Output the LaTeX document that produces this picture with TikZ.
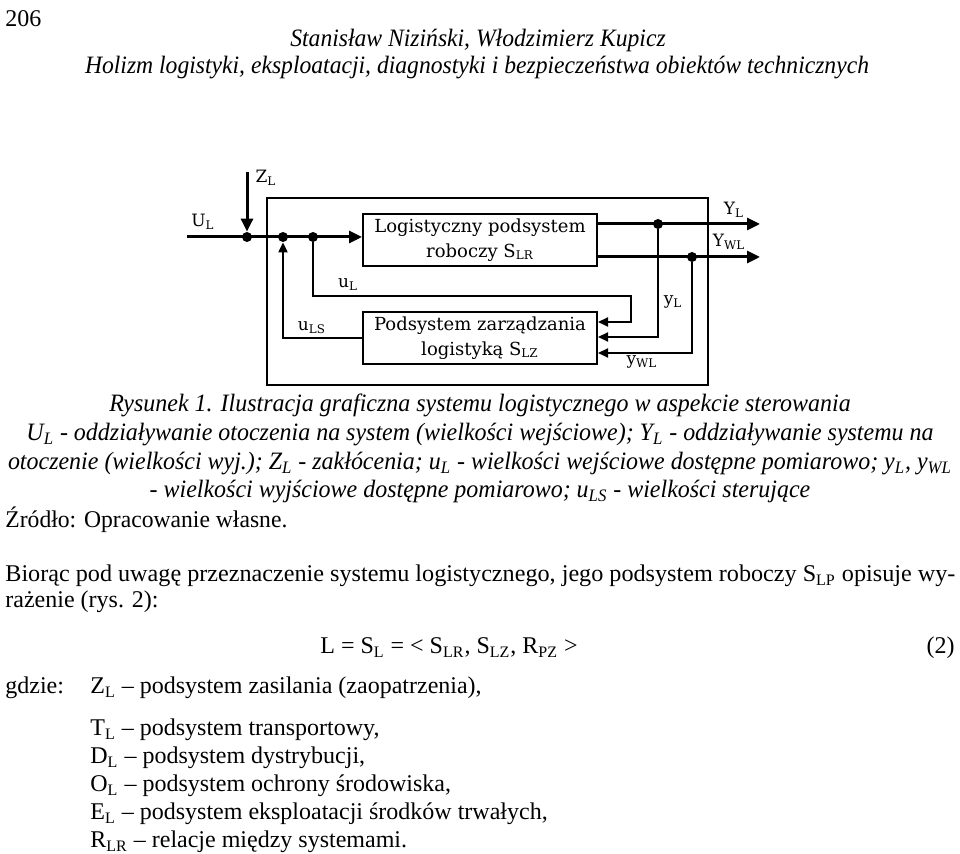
\documentclass[tikz,border=0pt]{standalone}
\usepackage{fontspec}
\usepackage{graphicx}
\setmainfont{Liberation Serif}
\newfontfamily\diagfont{DejaVu Serif}
\usetikzlibrary{arrows.meta}
\newsavebox\fitbox
\newlength\fitlen
\newcommand\hfit[2]{\sbox\fitbox{#2}\setlength\fitlen{\wd\fitbox}\pgfmathsetmacro\fitf{(#1)/\fitlen}\scalebox{\fitf}[1]{\usebox\fitbox}}
\newcommand\mkfactor[3]{\sbox\fitbox{#3}\setlength\fitlen{\wd\fitbox}\pgfmathsetmacro#1{(#2)/\fitlen}}
\newcommand\captext{otoczenie (wielkości wyj.); Z\textsubscript{L} - zakłócenia; u\textsubscript{L} - wielkości wejściowe dostępne pomiarowo; y\textsubscript{L}, y\textsubscript{WL}}
\newcommand\headtext{Holizm logistyki, eksploatacji, diagnostyki i bezpieczeństwa obiektów technicznych}
\tikzset{
 sig/.style={line width=1.5pt},
 wire/.style={line width=1pt},
 blk/.style={draw, line width=1pt, minimum width=117pt, minimum height=26pt, inner sep=0pt, align=center, font=\diagfont\fontsize{9}{12.5}\selectfont},
 frm/.style={draw, line width=1pt, minimum width=220.5pt, minimum height=93.5pt, inner sep=0pt},
 dot/.style={circle, fill, inner sep=0pt, minimum size=5pt},
 lbl/.style={inner sep=0pt, font=\diagfont\fontsize{8.5}{10}\selectfont},
 big/.style={-{Triangle[length=6.5pt,width=6pt]}},
 sml/.style={-{Triangle[length=5pt,width=4.5pt]}},
 txt/.style={inner sep=0pt, font=\fontsize{12}{14}\selectfont},
 capt/.style={inner sep=0pt, font=\itshape\fontsize{12.5}{14}\selectfont},
}
\begin{document}
\mkfactor{\capf}{472pt}{\itshape\fontsize{12.5}{14}\selectfont\captext}%
\mkfactor{\headf}{392pt}{\itshape\fontsize{12.5}{14}\selectfont\headtext}%
\begin{tikzpicture}[x=0.5pt,y=-0.5pt]
\useasboundingbox (0,0) rectangle (960,854);
% header
\node[txt, anchor=base west] (pg) at (5,27) {206};
\node[capt, anchor=base] (h1) at (478,47) {\scalebox{\headf}[1]{Stanisław Niziński, Włodzimierz Kupicz}};
\node[capt, anchor=base] (h2) at (477,74) {\scalebox{\headf}[1]{\headtext}};
% diagram
\node[frm] (fr) at (487.5,291.5) {};
\node[blk] (b1) at (480,240) {Logistyczny podsystem\\roboczy S\textsubscript{LR}};
\node[blk] (b2) at (480,338) {Podsystem zarządzania\\logistyką S\textsubscript{LZ}};
\node[dot] (d1) at (247,237) {};
\node[dot] (d2) at (283,237) {};
\node[dot] (d3) at (313,237) {};
\node[dot] (d4) at (658,224) {};
\node[dot] (d5) at (692,257) {};
\coordinate (ul) at (187,237);
\coordinate (zt) at (247,172);
\coordinate (yl) at (760,224);
\coordinate (ywl) at (760,257);
\coordinate (ulc) at (631,296);
\draw[sig,big] (ul) -- (b1.west |- d1);
\draw[sig,big] (zt) -- (d1.north);
\draw[wire,sml] (b2.west) -| (d2.south);
\draw[wire,sml] (d3.south) |- (ulc) |- ([yshift=8pt]b2.east);
\draw[sig,big] (b1.east |- d4) -- (yl);
\draw[sig,big] (b1.east |- d5) -- (ywl);
\draw[wire,sml] (d4.south) |- ([yshift=0.5pt]b2.east);
\draw[wire,sml] (d5.south) |- ([yshift=-7.5pt]b2.east);
\node[lbl] (lz) at (266,178) {Z\textsubscript{L}};
\node[lbl] (lu) at (203,222) {U\textsubscript{L}};
\node[lbl] (lul) at (348,285) {u\textsubscript{L}};
\node[lbl] (luls) at (312,328) {u\textsubscript{LS}};
\node[lbl] (lYL) at (734,210) {Y\textsubscript{L}};
\node[lbl] (lYWL) at (729,242) {Y\textsubscript{WL}};
\node[lbl] (lyl) at (673,302) {y\textsubscript{L}};
\node[lbl] (lywl) at (642,362) {y\textsubscript{WL}};
% caption
\node[capt, anchor=base] (c1) at (480,412) {\scalebox{\capf}[1]{Rysunek 1. Ilustracja graficzna systemu logistycznego w aspekcie sterowania}};
\node[capt, anchor=base] (c2) at (480,441) {\scalebox{\capf}[1]{U\textsubscript{L} - oddziaływanie otoczenia na system (wielkości wejściowe); Y\textsubscript{L} - oddziaływanie systemu na}};
\node[capt, anchor=base] (c3) at (480,470) {\scalebox{\capf}[1]{\captext}};
\node[capt, anchor=base] (c4) at (480,498) {\scalebox{\capf}[1]{- wielkości wyjściowe dostępne pomiarowo; u\textsubscript{LS} - wielkości sterujące}};
\node[txt, anchor=base west] (src) at (5,528) {\hfit{141pt}{Źródło: Opracowanie własne.}};
% body
\node[txt, anchor=base west] (p1) at (5,582) {\hfit{475pt}{Biorąc pod uwagę przeznaczenie systemu logistycznego, jego podsystem roboczy S\textsubscript{LP} opisuje wy-}};
\node[txt, anchor=base west] (p2) at (5,608) {rażenie (rys. 2):};
\node[txt, anchor=base] (eq) at (449,654) {L = S\textsubscript{L} = < S\textsubscript{LR}, S\textsubscript{LZ}, R\textsubscript{PZ} >};
\node[txt, anchor=base east] (eqn) at (955,654) {(2)};
\node[txt, anchor=base west] (gd) at (5,694) {gdzie:};
\node[txt, anchor=base west] (l1) at (90,694) {Z\textsubscript{L} – podsystem zasilania (zaopatrzenia),};
\node[txt, anchor=base west] (l2) at (90,736) {T\textsubscript{L} – podsystem transportowy,};
\node[txt, anchor=base west] (l3) at (90,764) {D\textsubscript{L} – podsystem dystrybucji,};
\node[txt, anchor=base west] (l4) at (90,792) {O\textsubscript{L} – podsystem ochrony środowiska,};
\node[txt, anchor=base west] (l5) at (90,820) {E\textsubscript{L} – podsystem eksploatacji środków trwałych,};
\node[txt, anchor=base west] (l6) at (90,848) {R\textsubscript{LR} – relacje między systemami.};
\end{tikzpicture}
\end{document}
